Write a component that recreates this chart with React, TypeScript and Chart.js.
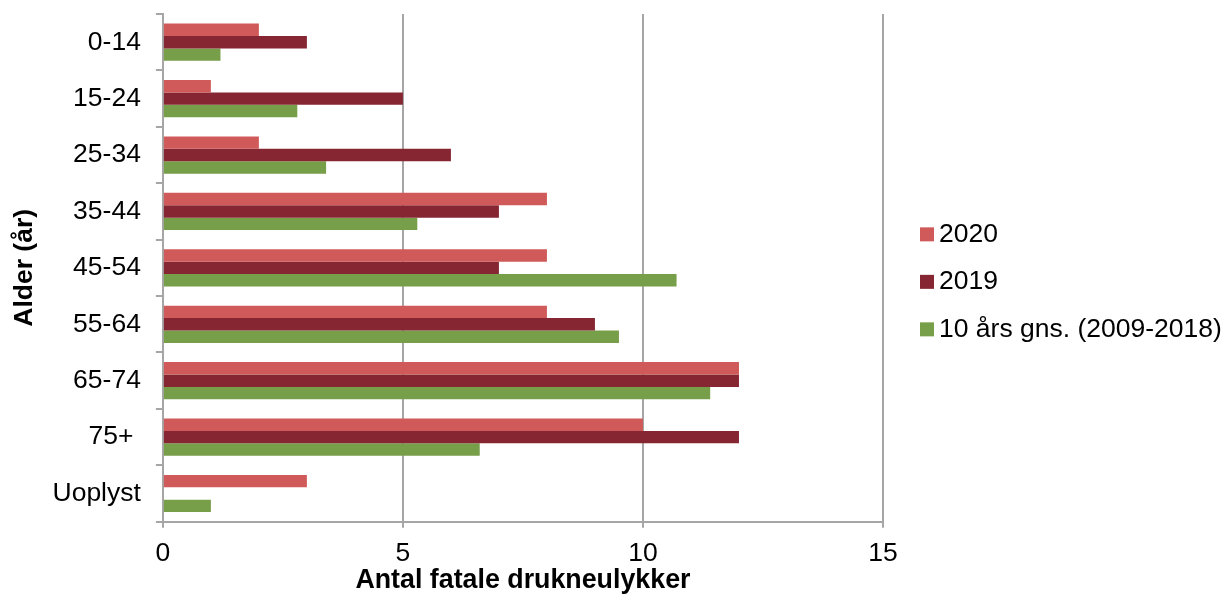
import React, { useEffect, useRef } from "react";
import { Chart, registerables } from "chart.js";

Chart.register(...registerables);

const categories = ["0-14", "15-24", "25-34", "35-44", "45-54", "55-64", "65-74", "75+ ", "Uoplyst"];
const values2020 = [2, 1, 2, 8, 8, 8, 12, 10, 3];
const values2019 = [3, 5, 6, 7, 7, 9, 12, 12, 0];
const valuesAvg = [1.2, 2.8, 3.4, 5.3, 10.7, 9.5, 11.4, 6.6, 1.0];
const seriesLabels = ["2020", "2019", "10 års gns. (2009-2018)"];
const seriesColors = ["#D05A59", "#862633", "#779E48"];
const xTicks = [0, 5, 10, 15];

const FONT = '"Liberation Sans", Arial, sans-serif';
const GRID = "#A6A6A6";

const legendPlugin = {
  id: "sideLegend",
  afterDraw(chart: any) {
    const { ctx, chartArea } = chart;
    const x0 = chartArea.right + 37;
    const cy = (chartArea.top + chartArea.bottom) / 2 + 14;
    const n = chart.data.datasets.length;
    ctx.save();
    chart.data.datasets.forEach((ds: any, i: number) => {
      const y = cy + (i - (n - 1) / 2) * 47.5;
      ctx.fillStyle = ds.backgroundColor;
      ctx.fillRect(x0, y - 7, 14, 14);
      ctx.fillStyle = "#000";
      ctx.font = `26.5px ${FONT}`;
      ctx.textBaseline = "middle";
      ctx.textAlign = "left";
      ctx.fillText(ds.label, x0 + 19, y);
    });
    ctx.restore();
  },
};

export default function App() {
  const ref = useRef<HTMLCanvasElement>(null);
  useEffect(() => {
    if (!ref.current) return;
    const series = [values2020, values2019, valuesAvg];
    const chart = new Chart(ref.current, {
      type: "bar",
      data: {
        labels: categories,
        datasets: series.map((vals, i) => ({
          label: seriesLabels[i],
          data: vals,
          backgroundColor: seriesColors[i],
          borderWidth: 0,
          barPercentage: 1,
          categoryPercentage: 0.66,
        })),
      },
      options: {
        indexAxis: "y",
        responsive: false,
        animation: false,
        layout: { padding: { top: 14, left: 11, right: 344, bottom: 5 } },
        plugins: { legend: { display: false }, tooltip: { enabled: false } },
        scales: {
          x: {
            min: 0,
            max: 15,
            afterBuildTicks: (s: any) => {
              s.ticks = xTicks.map((v) => ({ value: v }));
            },
            grid: { color: GRID, lineWidth: 2, drawTicks: true, tickLength: 6, tickColor: GRID },
            border: { color: GRID, width: 2 },
            ticks: { color: "#000", padding: 13, font: { family: FONT, size: 26.5, lineHeight: 1.0 } },
            title: {
              display: true,
              text: "Antal fatale drukneulykker",
              color: "#000",
              font: { family: FONT, size: 26.8, weight: "bold", lineHeight: 1.0 },
              padding: { top: -13, bottom: 0 },
            },
          },
          y: {
            afterFit: (s: any) => {
              s.paddingTop = 0;
              s.paddingBottom = 0;
            },
            grid: { display: true, drawOnChartArea: false, drawTicks: true, tickLength: 7, color: GRID, lineWidth: 2, offset: true },
            border: { color: GRID, width: 2 },
            ticks: { color: "#000", padding: 15, font: { family: FONT, size: 26.5, lineHeight: 1.0 } },
            title: {
              display: true,
              text: "Alder (år)",
              color: "#000",
              font: { family: FONT, size: 26.5, weight: "bold", lineHeight: 1.0 },
              padding: { top: 0, bottom: 0 },
            },
          },
        },
      },
      plugins: [legendPlugin],
    } as any);
    return () => chart.destroy();
  }, []);
  return (
    <canvas
      ref={ref}
      width={1227}
      height={599}
      style={{ position: "absolute", left: 0, top: 0, width: 1227, height: 599 }}
    />
  );
}
